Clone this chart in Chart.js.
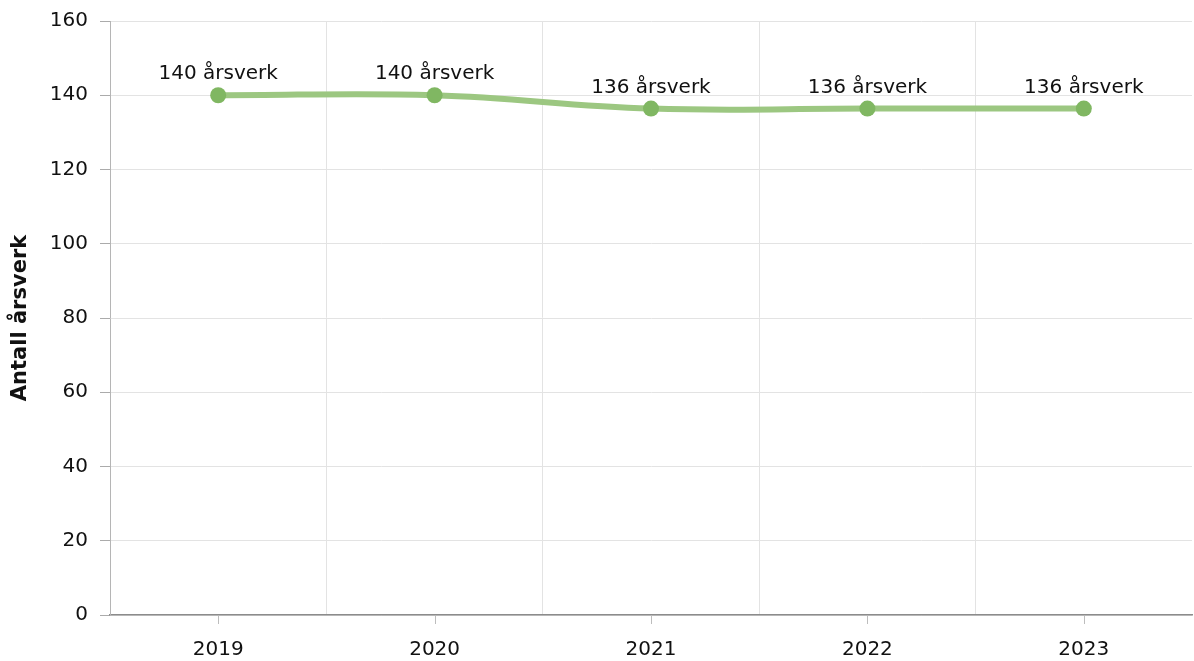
<!DOCTYPE html>
<html lang="no">

<head>
    <meta charset="UTF-8">
    <title>Antall årsverk</title>
    <style>
        html, body { margin: 0; padding: 0; background: #fff; }
        #wrap { width: 1194px; height: 661px; }
    </style>
</head>

<body>
    <div id="wrap">
        <canvas id="myChart01"></canvas>
    </div>
</body>
<script src="https://cdn.jsdelivr.net/npm/chart.js"></script>
<script>
    // data
    var years = ['2019', '2020', '2021', '2022', '2023'];
    var aarsverk = [140, 140, 136.4, 136.4, 136.4];
    var yTicks = [0, 20, 40, 60, 80, 100, 120, 140, 160];
    var yTitle = 'Antall årsverk';
    var unit = 'årsverk';

    Chart.defaults.font.family = '"DejaVu Sans", Verdana, sans-serif';
    Chart.defaults.font.size = 20;
    Chart.defaults.color = '#111';

    // labels above the points
    var pointLabels = {
        id: 'pointLabels',
        afterDatasetsDraw: function (chart) {
            var ctx = chart.ctx;
            var meta = chart.getDatasetMeta(0);
            ctx.save();
            ctx.font = '20px "DejaVu Sans", Verdana, sans-serif';
            ctx.fillStyle = '#111';
            ctx.textAlign = 'center';
            ctx.textBaseline = 'alphabetic';
            meta.data.forEach(function (pt, i) {
                ctx.fillText(Math.round(aarsverk[i]) + ' ' + unit, pt.x, pt.y - 16);
            });
            ctx.restore();
        }
    };

    // small tick marks under the x axis, at the category centres
    var xTickMarks = {
        id: 'xTickMarks',
        afterDraw: function (chart) {
            var ctx = chart.ctx;
            var xs = chart.scales.x;
            ctx.save();
            ctx.strokeStyle = '#bdbdbd';
            ctx.lineWidth = 1;
            for (var i = 0; i < years.length; i++) {
                var px = Math.round(xs.getPixelForTick(i)) + 0.5;
                ctx.beginPath();
                ctx.moveTo(px, xs.top + 1);
                ctx.lineTo(px, xs.top + 9);
                ctx.stroke();
            }
            ctx.restore();
        }
    };

    var ctx01 = document.getElementById('myChart01');
    var mychart01 = new Chart(ctx01, {
        type: 'line',
        data: {
            labels: years,
            datasets: [{
                label: yTitle,
                data: aarsverk,
                borderColor: '#9cc781',
                borderWidth: 6,
                backgroundColor: '#80b762',
                pointBackgroundColor: '#80b762',
                pointBorderColor: '#80b762',
                pointBorderWidth: 0,
                pointRadius: 8,
                tension: 0.4,
                fill: false
            }]
        },
        options: {
            responsive: true,
            maintainAspectRatio: false,
            animation: false,
            layout: { autoPadding: false, padding: { top: 21, right: 2, left: 0, bottom: 0 } },
            plugins: {
                legend: { display: false },
                tooltip: { enabled: false }
            },
            scales: {
                x: {
                    offset: true,
                    grid: {
                        offset: true,
                        drawTicks: false,
                        color: function (c) {
                            return (c.type !== 'tick' || c.index === 0) ? 'rgba(0,0,0,0)' : '#e3e3e3';
                        }
                    },
                    border: { color: '#8c8c8c', width: 1.5 },
                    ticks: { padding: 23, color: '#111', maxRotation: 0 },
                    afterFit: function (s) { s.height = 46; }
                },
                y: {
                    min: 0,
                    max: 160,
                    afterBuildTicks: function (s) {
                        s.ticks = yTicks.map(function (v) { return { value: v }; });
                    },
                    grid: {
                        color: '#e3e3e3',
                        tickColor: '#ababab',
                        tickLength: 10
                    },
                    border: { color: '#b5b5b5' },
                    ticks: { padding: 12, color: '#111' },
                    title: {
                        display: true,
                        text: yTitle,
                        color: '#111',
                        font: { size: 21, weight: 'bold' },
                        padding: { top: 8, bottom: 4 }
                    },
                    afterFit: function (s) {
                        s.width = 110;
                        s.paddingTop = 0;
                        s.paddingBottom = 0;
                    }
                }
            }
        },
        plugins: [pointLabels, xTickMarks]
    });
</script>

</html>
